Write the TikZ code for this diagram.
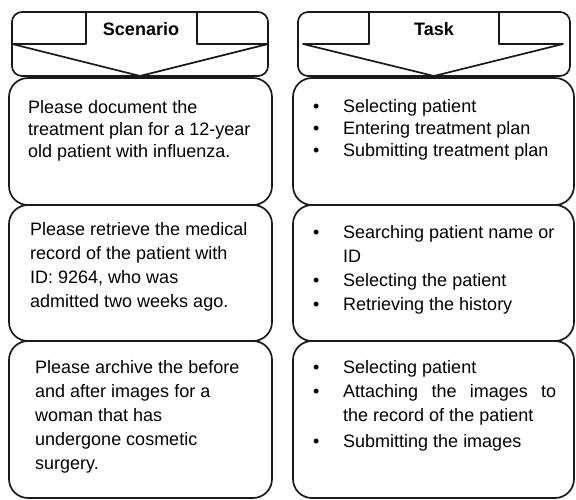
\documentclass[tikz,border=0pt]{standalone}
\usepackage{fontspec}
\setmainfont{Liberation Sans}
\tikzset{
  line/.style={draw=black!90, line width=1.7pt},
  headbox/.style={line, rounded corners=10pt, minimum width=#1, minimum height=64pt, inner sep=0pt},
  stepbox/.style={line, rounded corners=19pt, minimum width=#1, inner sep=0pt},
  txt/.style={anchor=north west, inner sep=0pt, align=left},
  headtxt/.style={anchor=base, inner sep=0pt, font=\fontsize{18}{22}\selectfont\bfseries}
}
\newcommand{\bitem}[1]{\makebox[30pt][l]{\textbullet}#1}
\newcommand{\bcont}[1]{\hspace*{30pt}#1}

\begin{document}
\begin{tikzpicture}[x=1pt,y=-1pt]
\useasboundingbox (0,0) rectangle (576,500);

% headers
\node[headbox=256pt] (schead) at (140,44) {};
\draw[line, line join=round] (12,44)--(86,44)--(86,12)--(197,12)--(197,44)--(268,44)--(140,76)--cycle;
\node[headtxt] (sclabel) at (141,36) {Scenario};

\node[headbox=272pt] (tkhead) at (434,44) {};
\draw[line, line join=round] (303,44)--(369,44)--(369,12)--(499,12)--(499,44)--(563,44)--(434,76)--cycle;
\node[headtxt] (tklabel) at (434,36) {Task};

% scenario boxes
\node[stepbox=263pt, minimum height=127pt] (sc1) at (140.5,141.5) {};
\node[stepbox=263pt, minimum height=136pt] (sc2) at (140.5,273) {};
\node[stepbox=263pt, minimum height=157pt] (sc3) at (140.5,419.5) {};

% task boxes
\node[stepbox=281pt, minimum height=127pt] (tk1) at (433.5,141.5) {};
\node[stepbox=281pt, minimum height=136pt] (tk2) at (433.5,273) {};
\node[stepbox=281pt, minimum height=157pt] (tk3) at (433.5,419.5) {};

% texts
\node[txt, font=\fontsize{18}{22}\selectfont] (sc1t) at (28,100)
  {Please document the\\treatment plan for a 12-year\\old patient with influenza.};
\node[txt, font=\fontsize{18}{24}\selectfont] (sc2t) at (30,222)
  {Please retrieve the medical\\record of the patient with\\ID: 9264, who was\\admitted two weeks ago.};
\node[txt, font=\fontsize{18}{24}\selectfont] (sc3t) at (35,360)
  {Please archive the before\\and after images for a\\woman that has\\undergone cosmetic\\surgery.};

\node[txt, font=\fontsize{18}{22}\selectfont] (tk1t) at (313,99)
  {\bitem{Selecting patient}\\\bitem{Entering treatment plan}\\\bitem{Submitting treatment plan}};
\node[txt, font=\fontsize{18}{24}\selectfont] (tk2t) at (313,225)
  {\bitem{Searching patient name or}\\\bcont{ID}\\\bitem{Selecting the patient}\\\bitem{Retrieving the history}};
\node[txt, font=\fontsize{18}{24}\selectfont] (tk3t) at (313,360)
  {\bitem{Selecting patient}\\\bitem{\makebox[213pt][s]{Attaching the images to}}\\\bcont{the record of the patient}\\[2pt]\bitem{Submitting the images}};
\end{tikzpicture}
\end{document}
